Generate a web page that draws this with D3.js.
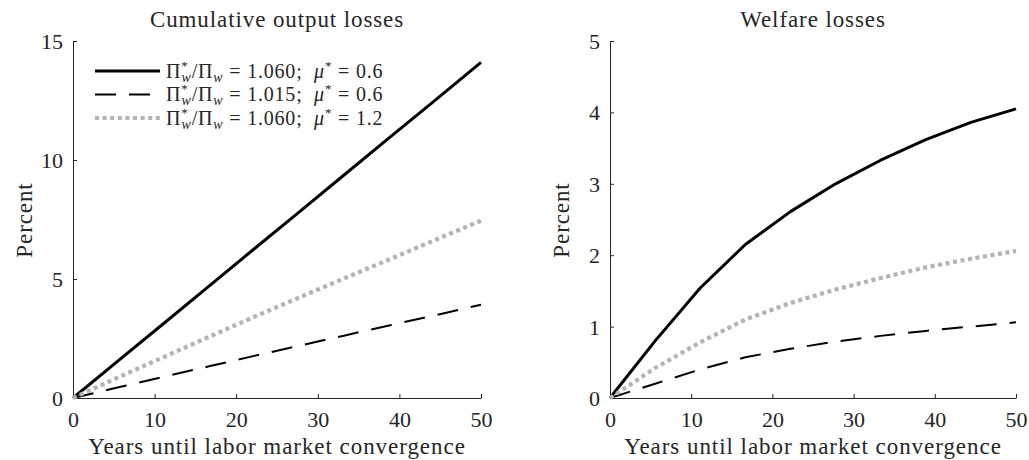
<!DOCTYPE html>
<html>
<head>
<meta charset="utf-8">
<script src="https://cdn.jsdelivr.net/npm/d3@7"></script>
<style>
  html, body { margin: 0; padding: 0; background: #fff; }
  svg text { font-family: "Liberation Serif", "DejaVu Serif", serif; fill: #262626; }
</style>
</head>
<body>
<svg id="chart" width="1029" height="460"></svg>
<script>
// Years until convergence (sample points of the simulation)
const years = [0, 5.56, 11.11, 16.67, 22.22, 27.78, 33.33, 38.89, 44.44, 50];

// Cumulative output losses, percent
const outputBase   = [0, 1.57, 3.13, 4.70, 6.27, 7.83, 9.40, 10.97, 12.53, 14.10];
const outputLowPi  = [0, 0.45, 0.89, 1.33, 1.77, 2.20, 2.63, 3.06, 3.48, 3.92];
const outputHighMu = [0, 0.87, 1.72, 2.57, 3.41, 4.23, 5.04, 5.84, 6.65, 7.45];

// Welfare losses, percent
const welfareBase   = [0, 0.80, 1.54, 2.15, 2.61, 3.00, 3.33, 3.62, 3.86, 4.05];
const welfareLowPi  = [0, 0.20, 0.40, 0.57, 0.69, 0.79, 0.87, 0.94, 1.00, 1.06];
const welfareHighMu = [0, 0.42, 0.78, 1.10, 1.33, 1.52, 1.68, 1.83, 1.95, 2.06];

// Legend entries
const legendRatio = ["1.060", "1.015", "1.060"];
const legendMu    = ["0.6", "0.6", "1.2"];

const xTicks = [0, 10, 20, 30, 40, 50];
const yTicksOutput  = [0, 5, 10, 15];
const yTicksWelfare = [0, 1, 2, 3, 4, 5];

const seriesStyles = [
  { stroke: "#000", width: 3, dash: null },
  { stroke: "#000", width: 2, dash: "21,13" },
  { stroke: "#b3b3b3", width: 4.2, dash: "4,3.6" }
];

const svg = d3.select("#chart");
const axisColor = "#262626";

function panel(opts) {
  const x = d3.scaleLinear().domain([0, 50]).range([opts.x0, opts.x1]);
  const y = d3.scaleLinear().domain(opts.yDomain).range([398, 41]);
  const g = svg.append("g");

  // x axis, ticks pointing inward
  const xa = g.append("g").attr("transform", "translate(0,398)")
    .call(d3.axisBottom(x).tickValues(xTicks).tickSize(-4).tickSizeOuter(0).tickFormat(d3.format("d")));
  // y axis, ticks pointing inward
  const ya = g.append("g").attr("transform", `translate(${opts.x0},0)`)
    .call(d3.axisLeft(y).tickValues(opts.yTicks).tickSize(-4).tickSizeOuter(0).tickFormat(d3.format("d")));
  [xa, ya].forEach(a => {
    a.attr("font-family", null);
    a.select(".domain").attr("stroke", axisColor).attr("stroke-width", 1);
    a.selectAll(".tick line").attr("stroke", axisColor);
    a.selectAll(".tick text").attr("font-size", 22).attr("fill", "#262626");
  });
  xa.selectAll(".tick text").attr("y", 29).attr("dy", 0);
  ya.selectAll(".tick text").attr("x", -10).attr("dy", "0.34em");

  const line = d3.line().x((d, i) => x(years[i])).y(d => y(d));
  opts.series.forEach((s, k) => {
    const st = seriesStyles[k];
    g.append("path").datum(s)
      .attr("d", line)
      .attr("fill", "none")
      .attr("stroke", st.stroke)
      .attr("stroke-width", st.width)
      .attr("stroke-linejoin", "round")
      .attr("stroke-dasharray", st.dash);
  });

  // title
  g.append("text").attr("x", (opts.x0 + opts.x1) / 2).attr("y", 27)
    .attr("text-anchor", "middle").attr("font-size", 23)
    .attr("letter-spacing", 0.9).text(opts.title);
  // axis labels
  g.append("text").attr("x", (opts.x0 + opts.x1) / 2).attr("y", 454)
    .attr("text-anchor", "middle").attr("font-size", 23)
    .attr("letter-spacing", 0.95).text("Years until labor market convergence");
  g.append("text")
    .attr("transform", `translate(${opts.x0 - 41},220) rotate(-90)`)
    .attr("text-anchor", "middle").attr("font-size", 23)
    .attr("letter-spacing", 0.9).text("Percent");
  return { x, y, g };
}

panel({
  x0: 73, x1: 481, yDomain: [0, 15], yTicks: yTicksOutput,
  title: "Cumulative output losses",
  series: [outputBase, outputLowPi, outputHighMu]
});

panel({
  x0: 610, x1: 1016, yDomain: [0, 5], yTicks: yTicksWelfare,
  title: "Welfare losses",
  series: [welfareBase, welfareLowPi, welfareHighMu]
});

// Legend in the output-loss panel
const legend = svg.append("g");
const rowY = [71, 94.5, 118];
legendRatio.forEach((r, i) => {
  const st = seriesStyles[i];
  const yy = rowY[i];
  legend.append("line")
    .attr("x1", 95).attr("x2", 160).attr("y1", yy).attr("y2", yy)
    .attr("stroke", st.stroke).attr("stroke-width", st.width)
    .attr("stroke-dasharray", st.dash);
  const t = legend.append("text").attr("x", 166).attr("y", yy + 6.5)
    .attr("font-size", 20).attr("letter-spacing", 0.8).style("white-space", "pre");
  t.append("tspan").text("Π");
  t.append("tspan").attr("dy", -8).attr("font-size", 13).text("*");
  t.append("tspan").attr("dx", -7).attr("dy", 12).attr("font-size", 14).attr("font-style", "italic").text("w");
  t.append("tspan").attr("dy", -4).text("/Π");
  t.append("tspan").attr("dy", 4).attr("font-size", 14).attr("font-style", "italic").text("w");
  t.append("tspan").attr("dy", -4).text(" = " + r + ";  ");
  t.append("tspan").attr("font-style", "italic").text("μ");
  t.append("tspan").attr("dy", -8).attr("font-size", 13).text("*");
  t.append("tspan").attr("dy", 8).text(" = " + legendMu[i]);
});
</script>
</body>
</html>
